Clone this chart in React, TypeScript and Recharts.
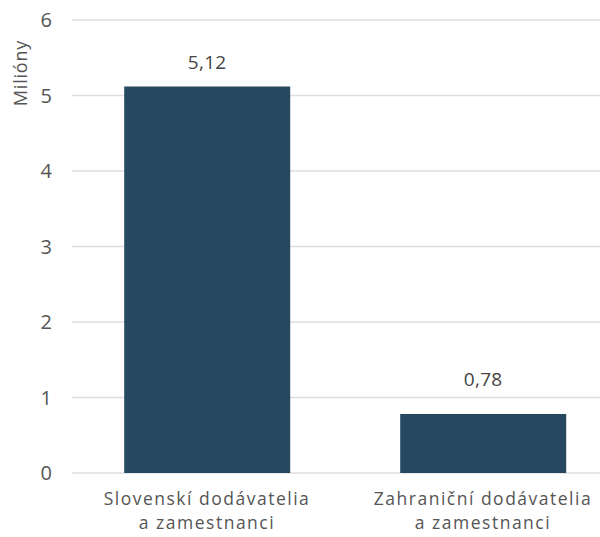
import React from 'react';
import { BarChart, Bar, XAxis, YAxis, CartesianGrid, LabelList } from 'recharts';

const categories = ['Slovenskí dodávatelia|a zamestnanci', 'Zahraniční dodávatelia|a zamestnanci'];
const values = [5.12, 0.78];
const yTicks = [0, 1, 2, 3, 4, 5, 6];
const yLabel = 'Milióny';

const data = categories.map((c, i) => ({ name: c, value: values[i] }));

const FONT = '"Open Sans", Lato, sans-serif';

const XTick = (props: any) => {
  const { x, y, payload } = props;
  const lines = String(payload.value).split('|');
  return (
    <g>
      {lines.map((l, i) => (
        <text key={i} x={x} y={y + 24 + i * 24} textAnchor="middle" fill="#555" fontSize={17.5} letterSpacing={1.5} fontFamily={FONT}>
          {l}
        </text>
      ))}
    </g>
  );
};

const ValueLabel = (props: any) => {
  const { x, y, width, value, index } = props;
  const gap = index === 0 ? 17 : 28;
  return (
    <text x={x + width / 2} y={y - gap} textAnchor="middle" fill="#444" fontSize={19} letterSpacing={0.3} fontFamily={FONT}>
      {Number(value).toFixed(2).replace('.', ',')}
    </text>
  );
};

export default function App() {
  return (
    <div style={{ position: 'absolute', left: 0, top: 0, width: 600, height: 537, overflow: 'hidden', background: '#fff' }}>
      <BarChart width={640} height={537} data={data} margin={{ top: 20, right: 19, bottom: 4, left: 0 }} barCategoryGap="20%">
        <CartesianGrid horizontal vertical={false} stroke="#dedede" strokeWidth={1.5} />
        <XAxis dataKey="name" axisLine={false} tickLine={false} height={60} interval={0} tick={<XTick />} padding={{ left: -3, right: 0 }} />
        <YAxis
          width={72}
          domain={[0, 6]}
          ticks={yTicks}
          axisLine={false}
          tickLine={false}
          tickMargin={14}
          tick={{ fill: '#555', fontSize: 20, fontFamily: FONT }}
          label={{
            content: () => (
              <text x={20} y={73} transform="rotate(-90 20 73)" textAnchor="middle" dominantBaseline="central" fill="#555" fontSize={18} letterSpacing={0.8} fontFamily={FONT}>
                {yLabel}
              </text>
            ),
          }}
        />
        <Bar dataKey="value" fill="#27495f" isAnimationActive={false}>
          <LabelList dataKey="value" content={<ValueLabel />} />
        </Bar>
      </BarChart>
    </div>
  );
}
